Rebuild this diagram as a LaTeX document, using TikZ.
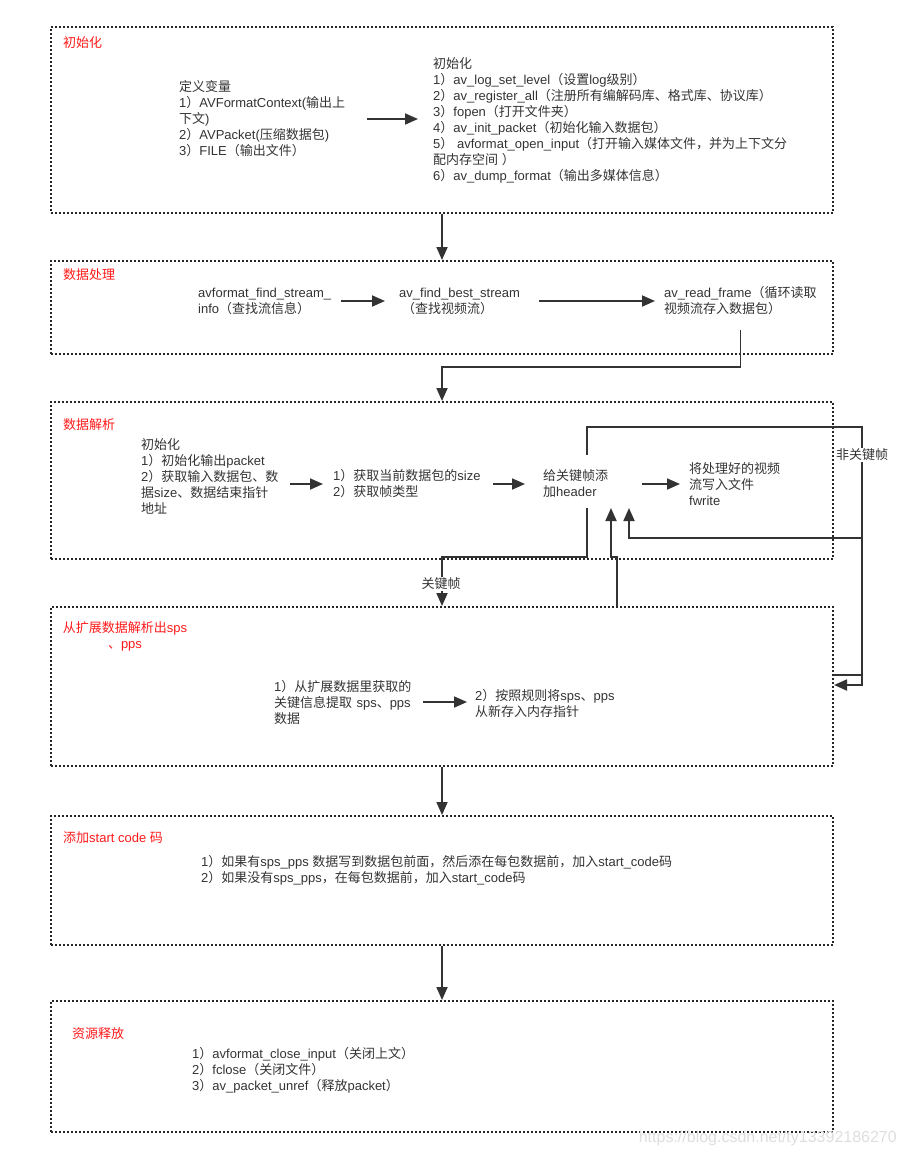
\documentclass[tikz,border=0pt]{standalone}
\usepackage{fontspec}
\setmainfont{Liberation Sans}
\newfontfamily\latinfont{Liberation Sans}
\newfontfamily\cjkfont{Noto Sans CJK SC}
\usetikzlibrary{arrows.meta}

% Schriftwechsel fuer chinesische Zeichen
\XeTeXinterchartokenstate=1
\newXeTeXintercharclass\cjkclass
\newcount\cjkcnt
\newcommand\cjkrange[2]{\cjkcnt=#1\relax
  \loop\XeTeXcharclass\cjkcnt=\cjkclass
    \advance\cjkcnt by 1
  \ifnum\cjkcnt<#2\repeat}
\cjkrange{"3000}{"3040}
\cjkrange{"4E00}{"A000}
\cjkrange{"FF00}{"FFF0}
\XeTeXinterchartoks 0 \cjkclass = {\cjkfont}
\XeTeXinterchartoks 4095 \cjkclass = {\cjkfont}
\XeTeXinterchartoks \cjkclass 0 = {\latinfont}
\XeTeXinterchartoks \cjkclass 4095 = {\latinfont}

\definecolor{ink}{HTML}{333333}
\definecolor{titlered}{HTML}{FF1A1A}

\begin{document}
\begin{tikzpicture}[
  x = 1pt, y = -1pt,
  every node/.style = {
    text = ink,
    font = \fontsize{13pt}{16pt}\selectfont
  },
  frame/.style = {
    draw = black!85, line width = 2pt,
    dash pattern = on 2pt off 2pt,
    anchor = north west, inner sep = 0pt,
    minimum width = 782pt
  },
  titel/.style = {text = titlered, anchor = west, inner sep = 0pt},
  txt/.style = {align = left, anchor = west, inner sep = 0pt},
  arr/.style = {draw = ink, line width = 1.8pt,
    -{Triangle[length=13pt,width=11pt]}},
  lbl/.style = {fill = white, inner sep = 1pt}
]
  \useasboundingbox (0,0) rectangle (903,1156);

  % Rahmen
  \node[frame, minimum height = 186pt] (init)  at (50,26)   {};
  \node[frame, minimum height = 93pt]  (proc)  at (50,260)  {};
  \node[frame, minimum height = 157pt] (parse) at (50,401)  {};
  \node[frame, minimum height = 159pt] (ext)   at (50,606)  {};
  \node[frame, minimum height = 129pt] (code)  at (50,815)  {};
  \node[frame, minimum height = 131pt] (free)  at (50,1000) {};

  % Titel
  \node[titel] (t1) at (63,43)  {初始化};
  \node[titel] (t2) at (63,275) {数据处理};
  \node[titel] (t3) at (63,425) {数据解析};
  \node[titel, align = center, anchor = center] (t4) at (125,636)
    {从扩展数据解析出sps\\、pps};
  \node[titel] (t5) at (63,838)  {添加start code 码};
  \node[titel] (t6) at (72,1034) {资源释放};

  % Texte
  \node[txt, text width = 188pt] (vars) at (179,119)
    {定义变量\\1）AVFormatContext(输出上\\下文)\\2）AVPacket(压缩数据包)\\3）FILE（输出文件）};
  \node[txt] (setup) at (433,120)
    {初始化\\1）av\_log\_set\_level（设置log级别）\\2）av\_register\_all（注册所有编解码库、格式库、协议库）\\3）fopen（打开文件夹）\\4）av\_init\_packet（初始化输入数据包）\\5） avformat\_open\_input（打开输入媒体文件，并为上下文分\\配内存空间 ）\\6）av\_dump\_format（输出多媒体信息）};

  \node[txt, text width = 143pt] (findinfo) at (198,301)
    {avformat\_find\_stream\_\\info（查找流信息）};
  \node[txt, text width = 140pt] (findbest) at (399,301)
    {av\_find\_best\_stream\\\hspace*{3pt}（查找视频流）};
  \node[txt] (readframe) at (664,301)
    {av\_read\_frame（循环读取\\视频流存入数据包）};

  \node[txt, text width = 149pt] (pinit) at (141,476)
    {初始化\\1）初始化输出packet\\2）获取输入数据包、数\\据size、数据结束指针\\地址};
  \node[txt, text width = 160pt] (getsize) at (333,484)
    {1）获取当前数据包的size\\2）获取帧类型};
  \node[txt, text width = 99pt] (header) at (543,484)
    {给关键帧添\\加header};
  \node[txt] (fwrite) at (689,484)
    {将处理好的视频\\流写入文件\\fwrite};

  \node[txt, text width = 149pt] (extract) at (274,702)
    {1）从扩展数据里获取的\\关键信息提取 sps、pps\\数据};
  \node[txt] (rewrite) at (475,703)
    {2）按照规则将sps、pps\\从新存入内存指针};

  \node[txt] (startcode) at (201,870)
    {1）如果有sps\_pps 数据写到数据包前面，然后添在每包数据前，加入start\_code码\\2）如果没有sps\_pps，在每包数据前，加入start\_code码};

  \node[txt] (release) at (192,1070)
    {1）avformat\_close\_input（关闭上文）\\2）fclose（关闭文件）\\3）av\_packet\_unref（释放packet）};

  % Anschluesse am Header
  \coordinate (hdrN) at (587,455);
  \coordinate (hdrS) at (587,508);
  \coordinate (hdrA) at (611,508);
  \coordinate (hdrB) at (629,508);

  % Pfeile
  \draw[arr] (init.south) -- (proc.north);
  \draw[arr, shorten >= 15pt] (vars.east) -- (vars.east -| setup.west);
  \draw[arr, shorten >= 14pt] (findinfo.east) -- (findinfo.east -| findbest.west);
  \draw[arr, shorten >= 9pt] (findbest.east) -- (findbest.east -| readframe.west);
  \draw[arr] (readframe.south |- 0,330) |- (parse.north |- 0,367) -- (parse.north);

  \draw[arr, shorten >= 10pt] (pinit.east |- getsize.west) -- (getsize.west);
  \draw[arr, shorten >= 18pt] (getsize.east) -- (header.west);
  \draw[arr, shorten >= 9pt] (header.east) -- (fwrite.west);

  \draw[arr] (hdrN) |- (862,427) |- (ext.east |- 0,685);
  \draw[arr] (hdrS) |- (ext.north |- 0,557) -- (ext.north);
  \draw[arr] (ext.north -| 617,0) |- (hdrA |- 0,557) -- (hdrA);
  \draw[arr] (ext.east |- 0,675) -- (862,675) |- (hdrB |- 0,538) -- (hdrB);
  \node[lbl] (nonkey) at (862,455) {非关键帧};
  \node[lbl] (key) at (441,584) {关键帧};

  \draw[arr, shorten >= 8pt] (extract.east) -- (extract.east -| rewrite.west);
  \draw[arr] (ext.south) -- (code.north);
  \draw[arr] (code.south) -- (free.north);

  % Wasserzeichen
  \node[text = black!13, font = \fontsize{16pt}{16pt}\selectfont, anchor = east, inner sep = 0pt]
    (mark) at (897,1138) {https://blog.csdn.net/ty13392186270};
\end{tikzpicture}
\end{document}
